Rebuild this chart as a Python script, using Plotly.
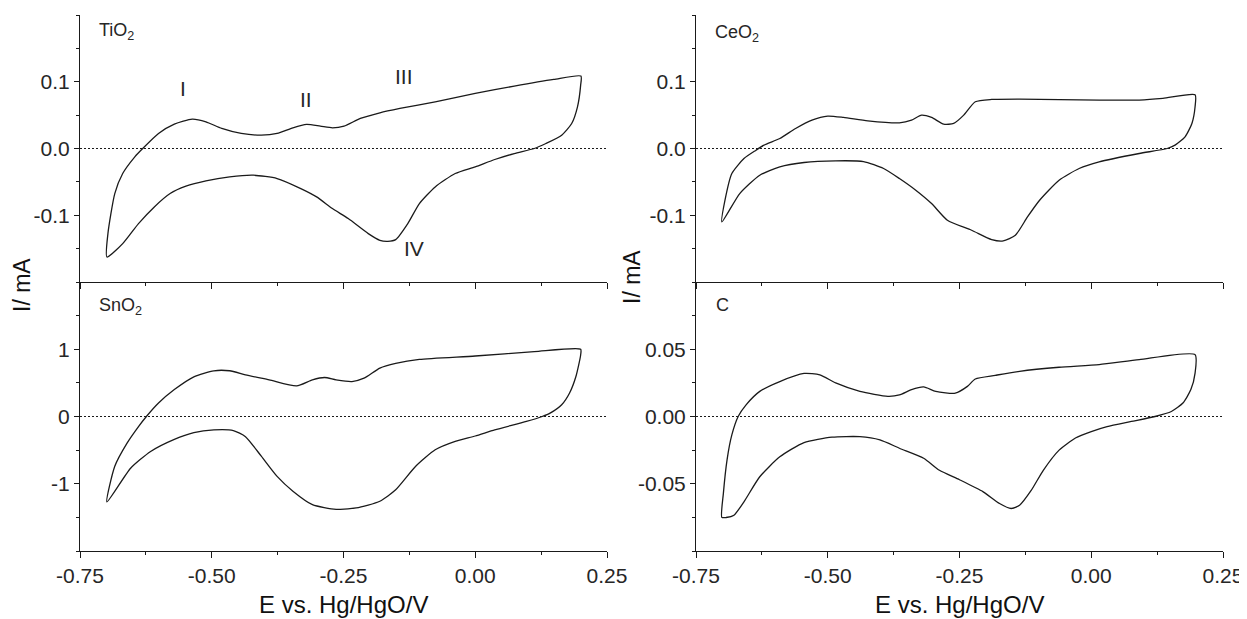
import plotly.graph_objects as go

# ---------------- data ----------------
TiO2_E = [-0.699, -0.697, -0.684, -0.669, -0.646, -0.631, -0.601, -0.571, -0.537, -0.511, -0.481, -0.444,
          -0.406, -0.376, -0.346, -0.320, -0.294, -0.271, -0.249, -0.218, -0.181, -0.143, -0.076, 0.0,
          0.074, 0.149, 0.2005,
          0.2, 0.194, 0.183, 0.164, 0.134, 0.112, 0.074, 0.037, 0.0, -0.038, -0.076, -0.106, -0.128,
          -0.151, -0.166, -0.181, -0.203, -0.241, -0.271, -0.301, -0.331, -0.376, -0.421, -0.466, -0.511,
          -0.549, -0.579, -0.609, -0.639, -0.669, -0.699]
TiO2_I = [-0.1625, -0.1275, -0.0675, -0.0375, -0.0125, 0.0, 0.0225, 0.0365, 0.044, 0.040, 0.030, 0.0225,
          0.020, 0.0225, 0.031, 0.036, 0.0335, 0.031, 0.0335, 0.045, 0.0535, 0.060, 0.070, 0.0825,
          0.0935, 0.1035, 0.1085,
          0.095, 0.0625, 0.0375, 0.02, 0.0075, 0.0, -0.0075, -0.0165, -0.0275, -0.0375, -0.0575, -0.0825,
          -0.1125, -0.1365, -0.139, -0.1375, -0.1275, -0.105, -0.09, -0.0725, -0.06, -0.045, -0.04,
          -0.0425, -0.0485, -0.0565, -0.0675, -0.0875, -0.1125, -0.1425, -0.1625]

SnO2_E = [-0.699, -0.684, -0.661, -0.639, -0.624, -0.601, -0.571, -0.534, -0.496, -0.466, -0.436, -0.391,
          -0.339, -0.309, -0.286, -0.264, -0.234, -0.211, -0.181, -0.151, -0.106, 0.0, 0.112, 0.2,
          0.2, 0.191, 0.179, 0.164, 0.142, 0.127, 0.097, 0.037, 0.0, -0.038, -0.076, -0.113, -0.151,
          -0.181, -0.226, -0.264, -0.309, -0.346, -0.376, -0.406, -0.436, -0.459, -0.496, -0.534,
          -0.571, -0.616, -0.654, -0.699]
SnO2_I = [-1.27, -0.74, -0.40, -0.15, 0.0, 0.20, 0.40, 0.59, 0.68, 0.68, 0.62, 0.545, 0.455, 0.545, 0.58,
          0.545, 0.52, 0.57, 0.72, 0.79, 0.85, 0.90, 0.965, 1.0,
          0.915, 0.595, 0.35, 0.175, 0.05, 0.0, -0.074, -0.2, -0.29, -0.37, -0.495, -0.74, -1.09, -1.26,
          -1.36, -1.38, -1.31, -1.11, -0.89, -0.59, -0.30, -0.21, -0.20, -0.24, -0.34, -0.52, -0.77, -1.27]

CeO2_E = [-0.701, -0.695, -0.682, -0.659, -0.636, -0.621, -0.591, -0.561, -0.530, -0.5, -0.470, -0.424,
          -0.364, -0.341, -0.322, -0.303, -0.280, -0.261, -0.242, -0.220, -0.189, -0.136, 0.015, 0.091,
          0.136, 0.197,
          0.197, 0.191, 0.178, 0.159, 0.144, 0.091, 0.015, -0.023, -0.061, -0.098, -0.121, -0.144,
          -0.167, -0.189, -0.227, -0.273, -0.303, -0.333, -0.364, -0.394, -0.432, -0.485, -0.545,
          -0.591, -0.629, -0.667, -0.701]
CeO2_I = [-0.11, -0.0775, -0.0375, -0.015, -0.0025, 0.005, 0.015, 0.03, 0.0425, 0.0485, 0.0465, 0.0415,
          0.0385, 0.0425, 0.05, 0.0465, 0.0365, 0.0375, 0.05, 0.07, 0.0735, 0.074, 0.0725, 0.0725,
          0.075, 0.0805,
          0.0625, 0.0375, 0.0175, 0.005, 0.0, -0.0075, -0.02, -0.03, -0.0475, -0.0775, -0.1025, -0.13,
          -0.1385, -0.1365, -0.1225, -0.1075, -0.0825, -0.0625, -0.045, -0.03, -0.0195, -0.0185,
          -0.021, -0.0275, -0.04, -0.0675, -0.11]

C_E = [-0.701, -0.698, -0.691, -0.682, -0.670, -0.655, -0.629, -0.591, -0.545, -0.515, -0.485, -0.439,
       -0.386, -0.364, -0.341, -0.318, -0.295, -0.258, -0.235, -0.220, -0.182, -0.136, -0.061, 0.015,
       0.091, 0.197,
       0.197, 0.189, 0.174, 0.152, 0.121, 0.076, 0.030, 0.0, -0.030, -0.061, -0.091, -0.114, -0.136,
       -0.152, -0.174, -0.205, -0.25, -0.288, -0.318, -0.364, -0.401, -0.439, -0.492, -0.545, -0.591,
       -0.629, -0.659, -0.678, -0.693, -0.701]
C_I = [-0.075, -0.057, -0.032, -0.0137, 0.0, 0.0087, 0.0187, 0.026, 0.032, 0.031, 0.025, 0.0187,
       0.015, 0.016, 0.020, 0.022, 0.0187, 0.0174, 0.0224, 0.0279, 0.0306, 0.0336, 0.0366, 0.0386,
       0.0423, 0.046,
       0.0323, 0.02, 0.01, 0.0037, 0.0, -0.0037, -0.0075, -0.0112, -0.016, -0.025, -0.040, -0.055,
       -0.066, -0.0684, -0.0647, -0.056, -0.047, -0.040, -0.031, -0.0236, -0.0174, -0.015, -0.0154,
       -0.0194, -0.030, -0.0448, -0.0634, -0.0734, -0.0751, -0.075]

panel_labels = ["TiO<sub>2</sub>", "CeO<sub>2</sub>", "SnO<sub>2</sub>", "C"]

x_tickvals = [-0.75, -0.5, -0.25, 0.0, 0.25]
x_ticktext = ["-0.75", "-0.50", "-0.25", "0.00", "0.25"]
y_oxide_tickvals = [-0.1, 0.0, 0.1]
y_oxide_ticktext = ["-0.1", "0.0", "0.1"]
y_sno2_tickvals = [-1, 0, 1]
y_sno2_ticktext = ["-1", "0", "1"]
y_c_tickvals = [-0.05, 0.0, 0.05]
y_c_ticktext = ["-0.05", "0.00", "0.05"]

peak_labels = ["I", "II", "III", "IV"]
peak_E = [-0.555, -0.321, -0.136, -0.117]
peak_I = [0.090, 0.074, 0.1075, -0.150]

x_title = "E vs. Hg/HgO/V"
y_title = "I/ mA"

# ---------------- figure ----------------
FONT = "Arial, Liberation Sans, sans-serif"
INK = "#1a1a1a"
TXT = "#262626"
W, H = 1247, 619
OFF = 8  # page body margin offset

def fx(px):
    return (px - OFF) / W

def fy(py):
    return 1 - (py - OFF) / H

xl = [fx(80), fx(607)]
xr = [fx(696), fx(1223)]
yt = [fy(282), fy(15)]
yb = [fy(551), fy(282)]

fig = go.Figure()
series = [(TiO2_E, TiO2_I, "x", "y"), (CeO2_E, CeO2_I, "x2", "y2"),
          (SnO2_E, SnO2_I, "x3", "y3"), (C_E, C_I, "x4", "y4")]
for e, i, xa, ya in series:
    fig.add_trace(go.Scatter(x=e, y=i, xaxis=xa, yaxis=ya, mode="lines",
                             line=dict(color=INK, width=1.3, shape="spline", smoothing=0.6),
                             showlegend=False, hoverinfo="skip"))

def xaxis(domain, anchor, labels):
    return dict(domain=domain, anchor=anchor, range=[-0.75, 0.25], showline=True, linecolor=INK,
                linewidth=1, ticks="outside", ticklen=6, tickwidth=1, tickcolor=INK,
                tickvals=x_tickvals, ticktext=x_ticktext, showticklabels=labels,
                minor=dict(ticks="outside", ticklen=3, tickwidth=1, tickcolor=INK, dtick=0.125,
                           tick0=-0.75, showgrid=False),
                showgrid=False, zeroline=False, mirror=False, automargin=False,
                tickfont=dict(family=FONT, size=21, color=TXT))

def yaxis(domain, anchor, rng, tv, tt, minor_dtick):
    return dict(domain=domain, anchor=anchor, range=rng, showline=True, linecolor=INK, linewidth=1,
                ticks="outside", ticklen=5, tickwidth=1, tickcolor=INK, tickvals=tv, ticktext=tt,
                minor=dict(ticks="outside", ticklen=3, tickwidth=1, tickcolor=INK, dtick=minor_dtick,
                           tick0=0, showgrid=False),
                showgrid=False, zeroline=False, mirror=False, automargin=False,
                tickfont=dict(family=FONT, size=21, color=TXT))

fig.update_layout(
    template="none",
    width=W, height=H, margin=dict(l=0, r=0, t=0, b=0, pad=0, autoexpand=False),
    paper_bgcolor="white", plot_bgcolor="white",
    xaxis=xaxis(xl, "y", False),
    yaxis=yaxis(yt, "x", [-0.2, 0.2], y_oxide_tickvals, y_oxide_ticktext, 0.05),
    xaxis2=xaxis(xr, "y2", False),
    yaxis2=yaxis(yt, "x2", [-0.2, 0.2], y_oxide_tickvals, y_oxide_ticktext, 0.05),
    xaxis3=xaxis(xl, "y3", True),
    yaxis3=yaxis(yb, "x3", [-2, 2], y_sno2_tickvals, y_sno2_ticktext, 0.5),
    xaxis4=xaxis(xr, "y4", True),
    yaxis4=yaxis(yb, "x4", [-0.1, 0.1], y_c_tickvals, y_c_ticktext, 0.025),
)

# dotted zero lines
for k in ["", "2", "3", "4"]:
    fig.add_shape(type="line", xref=f"x{k} domain", yref=f"y{k}", x0=0, x1=1, y0=0, y1=0,
                  line=dict(color=INK, width=1, dash="2px,2px"))

# panel labels
label_pos = [("x", "y", -0.718, 0.175), ("x2", "y2", -0.718, 0.172),
             ("x3", "y3", -0.718, 1.64), ("x4", "y4", -0.716, 0.083)]
for txt, (xa, ya, px, py) in zip(panel_labels, label_pos):
    fig.add_annotation(x=px, y=py, xref=xa, yref=ya, text=txt, showarrow=False, xanchor="left",
                       yanchor="middle", font=dict(family=FONT, size=18, color=TXT))

# peak labels on TiO2 panel
for t, e, i in zip(peak_labels, peak_E, peak_I):
    fig.add_annotation(x=e, y=i, xref="x", yref="y", text=t, showarrow=False,
                       font=dict(family=FONT, size=21, color=TXT))

# axis titles
for cx in [(80 + 607) / 2, (696 + 1223) / 2]:
    fig.add_annotation(x=fx(cx), y=fy(604), xref="paper", yref="paper", text=x_title,
                       showarrow=False, xanchor="center", yanchor="middle",
                       font=dict(family=FONT, size=24, color="#111111"))
for cx, cy in [(22, 285), (632, 277)]:
    fig.add_annotation(x=fx(cx), y=fy(cy), xref="paper", yref="paper", text=y_title,
                       showarrow=False, textangle=-90, xanchor="center", yanchor="middle",
                       font=dict(family=FONT, size=23, color="#111111"))

fig.write_html("out.html")
